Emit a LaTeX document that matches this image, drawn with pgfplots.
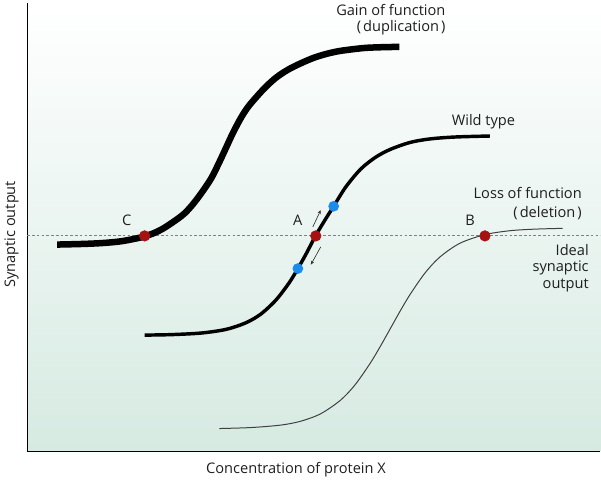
\documentclass[border=0pt]{standalone}
\usepackage{fontspec}
\setmainfont{Open Sans}
\usepackage{pgfplots}
\pgfplotsset{compat=1.18}
\usetikzlibrary{arrows.meta}

\definecolor{bggreen}{RGB}{214,234,226}
\definecolor{dotred}{RGB}{165,18,18}
\definecolor{dotblue}{RGB}{28,140,235}
\definecolor{txt}{RGB}{30,30,30}

\begin{document}
\begin{tikzpicture}[every node/.style={font=\fontsize{11}{13}\selectfont, text=txt}]
\begin{axis}[
  scale only axis,
  width=432pt, height=338.25pt,
  xmin=25, xmax=601, ymin=0, ymax=451,
  axis x line=bottom, axis y line=left,
  axis line style={-, line width=1pt},
  xtick=\empty, ytick=\empty,
  clip=false,
  axis background/.style={top color=white, bottom color=bggreen},
  xlabel={Concentration of protein X},
  ylabel={Synaptic output},
  xlabel style={at={(axis description cs:0.469,0)}, anchor=mid, yshift=-14pt},
  ylabel style={at={(axis description cs:-0.0273,0.4845)}, anchor=mid},
]
% ideal output level
\addplot[gray, line width=0.8pt, dash pattern=on 2pt off 1.6pt] coordinates {(25,217) (601,217)};

% gain of function (duplication)
\addplot[black, line width=4.9pt, line join=round, smooth] coordinates {
  (55,208.3) (80,208.9) (100,209.8) (120,211.7) (143,216.5) (160,223.5)
  (180,237) (190,247) (200,260) (210,275) (218,291) (225,306)
  (232,321) (240,336) (248,348) (263,365) (275,376) (287,384)
  (300,390.5) (313,396) (326,400) (340,403) (363,405.8) (380,406.6) (399,407)};

% wild type
\addplot[black, line width=2.6pt, line join=round, smooth] coordinates {
  (143,117.3) (170,117.8) (200,119.4) (225,123.1) (245,129.8) (260,138.6)
  (275,152.6) (288,169.5) (297,184.2) (305,198.4) (315,217.5) (325,234.2)
  (333,246.8) (345,266) (360,284) (375,296) (390,304) (410,311)
  (430,314.5) (455,316.4) (490,317.4)};

% loss of function (deletion)
\addplot[black!75, line width=0.75pt, smooth] coordinates {
  (218,23.4) (250,24.4) (280,26.9) (300,30.8) (320,38.3) (340,52)
  (355,68) (370,89.5) (380,106.2) (390,124) (400,141.8) (410,158.5)
  (425,180) (440,196) (460,209.7) (485,218.3) (510,222.2) (535,223.8)
  (563,224.6)};

% small arrows at A
\addplot[black!80, line width=0.5pt, -{Stealth[length=3pt,width=2.4pt]}] coordinates {(312,226) (320,243)};
\addplot[black!80, line width=0.5pt, -{Stealth[length=3pt,width=2.4pt]}] coordinates {(320,206) (310,188)};

% points
\addplot[only marks, mark=*, mark size=3.8pt, color=dotblue] coordinates {(297,184.2) (333,246.8)};
\addplot[only marks, mark=*, mark size=4pt, color=dotred] coordinates {(143,217) (315,217) (485,217)};

% labels
\node[anchor=mid east] at (axis cs:450,442) {Gain of function};
\node[anchor=mid east] at (axis cs:450,426) {(\hspace{1.5pt}duplication\hspace{1.5pt})};
\node[anchor=mid east] at (axis cs:520,332) {Wild type};
\node[anchor=mid east] at (axis cs:587,258) {Loss of function};
\node[anchor=mid east] at (axis cs:587,239) {(\hspace{1.5pt}deletion\hspace{1.5pt})};
\node[anchor=mid east] at (axis cs:594,201) {Ideal};
\node[anchor=mid east] at (axis cs:594,185) {synaptic};
\node[anchor=mid east] at (axis cs:594,168) {output};
\node[anchor=base] at (axis cs:125,227) {C};
\node[anchor=base] at (axis cs:297,227) {A};
\node[anchor=base] at (axis cs:470,227) {B};

\path (axis cs:0,-26) rectangle (axis cs:601,451);
\end{axis}
\end{tikzpicture}
\end{document}
